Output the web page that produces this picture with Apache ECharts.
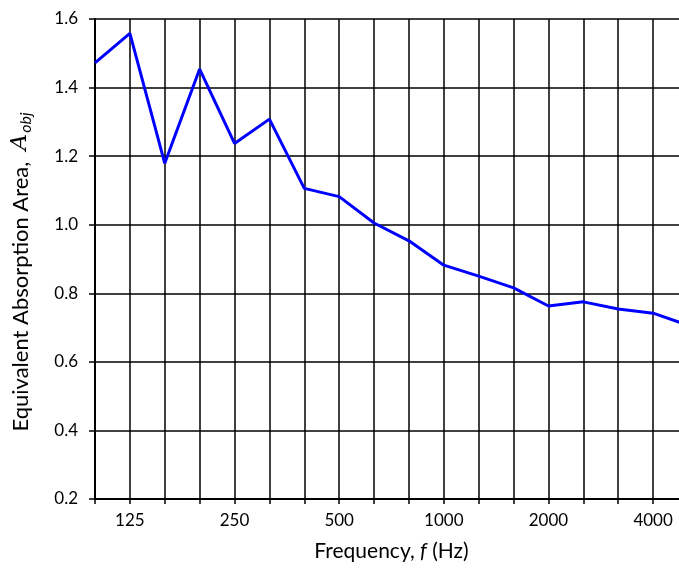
<!DOCTYPE html>
<html>
<head>
<meta charset="utf-8">
<script src="https://cdn.jsdelivr.net/npm/echarts@6/dist/echarts.min.js"></script>
<style>html,body{margin:0;padding:0;background:#fff}#c{width:679px;height:568px}</style>
</head>
<body>
<div id="c"></div>
<script>
var frequencies = ['100','125','160','200','250','315','400','500','630','800','1000','1250','1600','2000','2500','3150','4000','5000'];
var labeledFreqs = ['125','250','500','1000','2000','4000'];
var absorption = [1.472,1.558,1.179,1.454,1.237,1.308,1.106,1.082,1.005,0.953,0.882,0.850,0.816,0.763,0.775,0.754,0.742,0.707];
var yTicks = {min:0.2, max:1.6, interval:0.2};

var font = 'Lato, "Open Sans", sans-serif';
var chart = echarts.init(document.getElementById('c'));
chart.setOption({
  animation:false,
  backgroundColor:'#fff',
  grid:{left:95, width:593, top:19, height:480, containLabel:false, outerBoundsMode:'none'},
  xAxis:{
    type:'category',
    data:frequencies,
    boundaryGap:false,
    name:'Frequency, {i|f} (Hz)',
    nameLocation:'middle',
    nameGap:42,
    nameTextStyle:{fontFamily:font, fontSize:21, color:'#000', padding:[0,0,0,0],
      rich:{i:{fontFamily:font, fontSize:21, fontStyle:'italic', color:'#000'}}},
    axisLine:{lineStyle:{color:'#000', width:2}},
    axisTick:{show:true, interval:0, length:5, lineStyle:{color:'#000', width:1.5}},
    axisLabel:{interval:0, fontFamily:font, fontSize:17, color:'#000', margin:13,
      formatter:function(v){return labeledFreqs.indexOf(v)>=0 ? v : '';}},
    splitLine:{show:true, interval:0, lineStyle:{color:'#000', width:1.5}}
  },
  yAxis:{
    type:'value',
    min:yTicks.min, max:yTicks.max, interval:yTicks.interval,
    name:'Equivalent Absorption Area,  {i|A}{s|obj}',
    nameLocation:'middle',
    nameRotate:90,
    nameGap:61,
    nameTextStyle:{fontFamily:font, fontSize:22, color:'#000', padding:[0,26,0,0],
      rich:{i:{fontFamily:'"DejaVu Serif", serif', fontSize:23, fontStyle:'italic', color:'#000'},
            s:{fontFamily:font, fontSize:16, fontStyle:'italic', color:'#000', padding:[11,0,0,1]}}},
    axisLine:{show:true, lineStyle:{color:'#000', width:2}},
    axisTick:{show:true, length:6, lineStyle:{color:'#000', width:1.5}},
    axisLabel:{fontFamily:font, fontSize:17, color:'#000', margin:17,
      formatter:function(v){return v.toFixed(1);}},
    splitLine:{show:true, lineStyle:{color:'#000', width:1.5}}
  },
  series:[{
    type:'line',
    data:absorption,
    symbol:'none',
    lineStyle:{color:'#0000ff', width:3},
    clip:true
  }]
});
</script>
</body>
</html>
